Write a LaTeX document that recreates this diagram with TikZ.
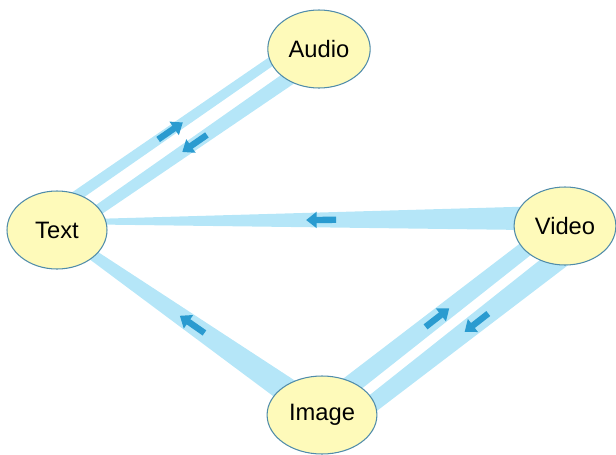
\documentclass[tikz,border=0pt]{standalone}
\usepackage{fontspec}
\setmainfont{Liberation Sans}
\usetikzlibrary{calc, arrows.meta, backgrounds, shapes.geometric}

\definecolor{bandblue}{RGB}{181,230,248}
\definecolor{arrowblue}{RGB}{42,155,208}
\definecolor{nodefill}{RGB}{254,250,186}
\definecolor{nodeline}{RGB}{80,140,170}

% tapered flow: from, to, offset, half width at from, half width at to, arrow pos
\newcommand{\flowband}[6]{
  \coordinate (fs) at ($(#1)!#3!90:(#2)$);
  \coordinate (ft) at ($(#2)!#3!-90:(#1)$);
  \fill[band] ($(#1)!#3+#4!90:(#2)$) -- ($(#2)!#3+#5!-90:(#1)$)
    -- ($(#2)!#3-#5!-90:(#1)$) -- ($(#1)!#3-#4!90:(#2)$) -- cycle;
  \draw[flowarrow] ($(fs)!#6!(ft)!-0.3cm!(ft)$) -- ($(fs)!#6!(ft)!0.3cm!(ft)$);
}

\begin{document}
\begin{tikzpicture}[
  medium/.style={ellipse, draw=nodeline, line width=0.6pt, fill=nodefill,
    minimum width=2cm, minimum height=1.56cm, font=\fontsize{13.5}{16}\selectfont},
  band/.style={fill=bandblue},
  flowarrow/.style={draw=arrowblue, line width=3.6pt, -{Triangle[length=6pt,width=9pt]}}
]
\useasboundingbox (0,0) rectangle (12.32,9.08);

\node[medium] (text) at (1.14,4.48) {Text};
\node[medium] (audio) at (6.38,8.10) {Audio};
\node[medium] (video) at (11.30,4.56) {Video};
\node[medium] (image) at (6.44,0.78) {Image};

\begin{scope}[on background layer]
\flowband{text}{audio}{0.34cm}{0.11cm}{0.09cm}{0.47}
\flowband{audio}{text}{0.14cm}{0.15cm}{0.10cm}{0.49}
\flowband{video}{text}{-0.16cm}{0.25cm}{0.04cm}{0.48}
\flowband{image}{text}{0cm}{0.28cm}{0.08cm}{0.49}
\flowband{image}{video}{0.12cm}{0.20cm}{0.15cm}{0.49}
\flowband{video}{image}{0.44cm}{0.22cm}{0.16cm}{0.42}
\end{scope}
\end{tikzpicture}
\end{document}
